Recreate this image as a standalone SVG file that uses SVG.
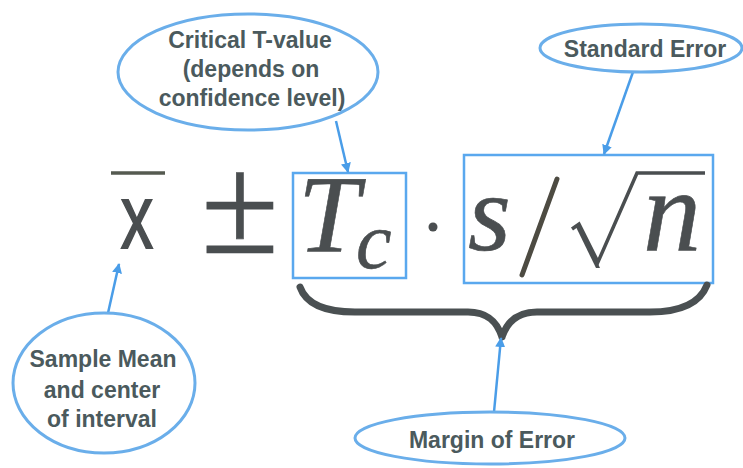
<svg xmlns="http://www.w3.org/2000/svg" width="743" height="468" viewBox="0 0 743 468">
<defs>
<style>
.bubble{fill:#ffffff;stroke:#6aaeea;stroke-width:3}
.lbl{font-family:"Liberation Sans",Arial,sans-serif;font-weight:bold;font-size:23px;fill:#4b5a5d;text-anchor:middle}
.box{fill:none;stroke:#5aa8ee;stroke-width:2.5}
.arrow{fill:none;stroke:#4a9de8;stroke-width:2.5;marker-end:url(#ah)}
.math{fill:#4a4e50}
.serif{font-family:"Liberation Serif","Times New Roman",serif;font-style:italic;stroke:#4a4e50;stroke-width:0.6}
</style>
<marker id="ah" viewBox="0 0 10 10" refX="9" refY="5" markerWidth="4" markerHeight="4" orient="auto" markerUnits="strokeWidth">
<path d="M0,0 L10,5 L0,10 z" fill="#4a9de8"/>
</marker>
</defs>
<rect width="743" height="468" fill="#ffffff"/>

<g id="formula">
<line x1="111" y1="173" x2="165" y2="173" stroke="#555a50" stroke-width="3.5"/>
<text class="math" font-family="Liberation Sans,Arial,sans-serif" font-size="90" text-anchor="middle" stroke="#4a4e50" stroke-width="1.8" transform="translate(137,248) scale(0.72,1)">x</text>
<text class="math" font-family="Liberation Serif,Times New Roman,serif" font-size="142" text-anchor="middle" stroke="#4a4e50" stroke-width="0.6" x="240" y="253">±</text>
<text class="math serif" font-size="110" x="298" y="252">T</text>
<text class="math serif" font-size="80" x="356" y="268">c</text>
<circle cx="433" cy="227" r="4.5" fill="#4a4e50"/>
<text class="math serif" font-size="110" x="468" y="250">s</text>
<line x1="557" y1="179" x2="522" y2="275" stroke="#4d4b42" stroke-width="5" stroke-linecap="round"/>
<path d="M572,229 L579,224 L598,262 L637,173 L705,173" fill="none" stroke="#4a4e50" stroke-width="3.5" stroke-linejoin="miter"/>
<path d="M579,224 L600,268 L596,268 L576,227 z" fill="#4a4e50"/>
<text class="math serif" font-size="116" x="643" y="250">n</text>
</g>

<g id="tc-box"><rect class="box" x="293" y="173" width="113" height="105"/></g>
<g id="se-box"><rect class="box" x="464" y="155" width="249" height="128"/></g>

<g id="brace">
<path d="M300,287 C306,304 326,312 355,312 L468,312 C488,312 497,322 502,337 M707,285 C700,303 680,312 650,312 L537,312 C517,312 507,322 502,337" fill="none" stroke="#4a5052" stroke-width="7" stroke-linecap="round" stroke-linejoin="round"/>
</g>

<g id="connectors">
<line class="arrow" x1="336" y1="121" x2="348" y2="172"/>
<line class="arrow" x1="633" y1="72" x2="604" y2="154"/>
<line class="arrow" x1="108" y1="313" x2="119" y2="264"/>
<line class="arrow" x1="494" y1="412" x2="501" y2="338"/>
</g>

<g id="critical">
<ellipse class="bubble" cx="248" cy="72" rx="130" ry="58"/>
<text class="lbl" x="250" y="48">Critical T-value</text>
<text class="lbl" x="251" y="77">(depends on</text>
<text class="lbl" x="252" y="106">confidence level)</text>
</g>

<g id="standard-error">
<ellipse class="bubble" cx="641" cy="48" rx="101" ry="24"/>
<text class="lbl" x="645" y="57">Standard Error</text>
</g>

<g id="sample-mean">
<ellipse class="bubble" cx="104" cy="383" rx="91" ry="70"/>
<text class="lbl" x="103" y="367">Sample Mean</text>
<text class="lbl" x="102" y="398">and center</text>
<text class="lbl" x="102" y="427">of interval</text>
</g>

<g id="margin-of-error">
<ellipse class="bubble" cx="490" cy="438" rx="135" ry="26"/>
<text class="lbl" x="492" y="448">Margin of Error</text>
</g>
</svg>
